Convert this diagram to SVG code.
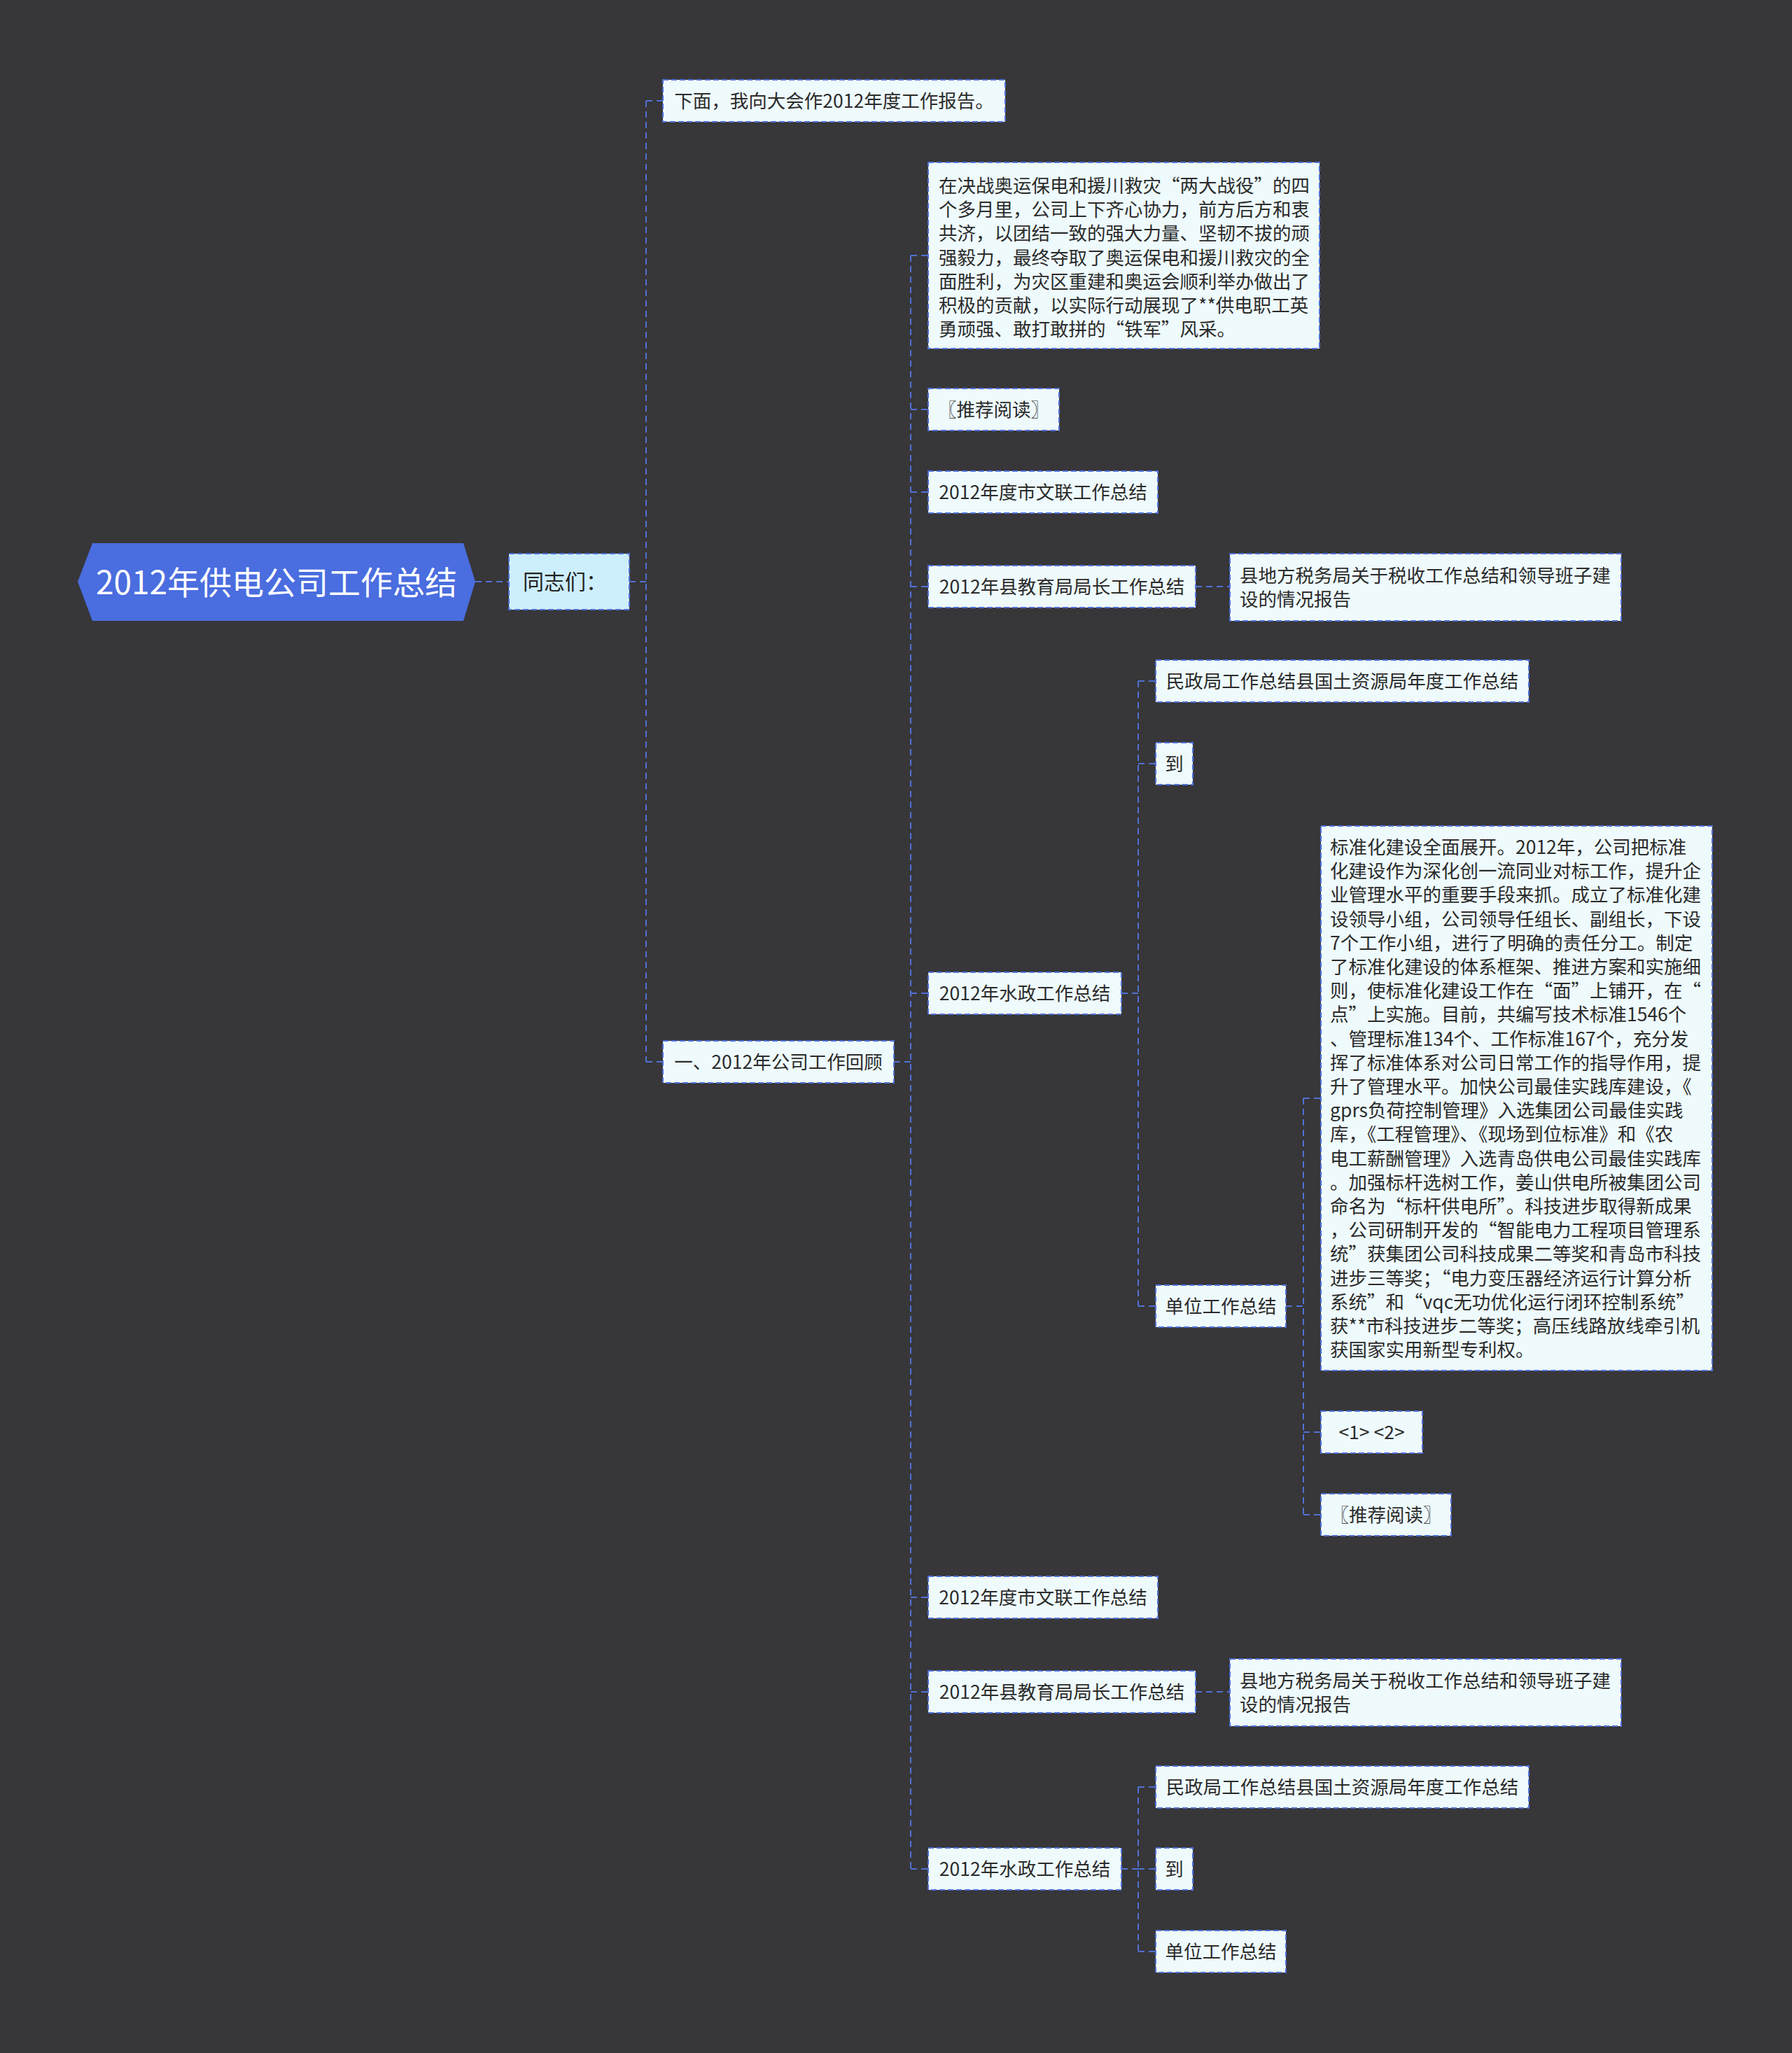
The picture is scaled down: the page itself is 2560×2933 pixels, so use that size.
<svg xmlns="http://www.w3.org/2000/svg" width="2560" height="2933" viewBox="0 0 2560 2933">
<style>
.bg{fill:#373639}
.box{fill:#eefafc;stroke:#5071d6;stroke-width:2;stroke-dasharray:8 4}
.sub{fill:#cdeefd;stroke:#5071d6;stroke-width:2;stroke-dasharray:8 4}
.t{font-family:"Noto Sans CJK SC","Microsoft YaHei",sans-serif;font-size:26.5px;fill:#2b2b2b}
.tc{text-anchor:middle;dominant-baseline:central}
.tl{dominant-baseline:central}
.root{font-family:"Noto Sans CJK SC","Microsoft YaHei",sans-serif;font-size:46px;fill:#ffffff;text-anchor:middle;dominant-baseline:central}
.c{fill:none;stroke:#5071d6;stroke-width:2;stroke-dasharray:9 6}
</style>
<rect class="bg" x="0" y="0" width="2560" height="2933"/>
<g id="connectors">
<path class="c" d="M679,831 H727" stroke-width="3"/>
<path class="c" d="M899,831 H923"/>
<path class="c" d="M923,144 V1517"/>
<path class="c" d="M923,144 H947"/>
<path class="c" d="M923,1517 H947"/>
<path class="c" d="M1277,1517 H1301"/>
<path class="c" d="M1301,365 V2670"/>
<path class="c" d="M1301,365 H1326"/>
<path class="c" d="M1301,585 H1326"/>
<path class="c" d="M1301,703 H1326"/>
<path class="c" d="M1301,838 H1326"/>
<path class="c" d="M1301,1419 H1326"/>
<path class="c" d="M1301,2282 H1326"/>
<path class="c" d="M1301,2417 H1326"/>
<path class="c" d="M1301,2670 H1326"/>
<path class="c" d="M1708,838 H1757"/>
<path class="c" d="M1708,2417 H1757"/>
<path class="c" d="M1602,1419 H1626"/>
<path class="c" d="M1626,973 V1866"/>
<path class="c" d="M1626,973 H1651"/>
<path class="c" d="M1626,1091 H1651"/>
<path class="c" d="M1626,1866 H1651"/>
<path class="c" d="M1837,1866 H1862"/>
<path class="c" d="M1862,1569 V2164"/>
<path class="c" d="M1862,1569 H1887"/>
<path class="c" d="M1862,2046 H1887"/>
<path class="c" d="M1862,2164 H1887"/>
<path class="c" d="M1602,2670 H1626"/>
<path class="c" d="M1626,2553 V2788"/>
<path class="c" d="M1626,2553 H1651"/>
<path class="c" d="M1626,2670 H1651"/>
<path class="c" d="M1626,2788 H1651"/>
</g>
<g id="root">
<polygon points="111,831 132,776 662,776 679,831 662,887 132,887" fill="#4a6ddf"/>
<text class="root" x="395" y="829">2012年供电公司工作总结</text>
</g>
<g id="n-tongzhi">
<rect class="sub" x="727" y="791" width="172" height="80"/>
<text class="t tl" x="747" y="829" style="font-size:30px;fill:#222">同志们：</text>
</g>
<g id="n1">
<rect class="box" x="947" y="114" width="489" height="60"/>
<text class="t tc" x="1191.5" y="142">下面，我向大会作2012年度工作报告。</text>
</g>
<g id="n2">
<rect class="box" x="947" y="1487" width="330" height="60"/>
<text class="t tc" x="1112" y="1515">一、2012年公司工作回顾</text>
</g>
<g id="n3">
<rect class="box" x="1326" y="232" width="559" height="266"/>
<text class="t tl">
<tspan x="1341" y="263">在决战奥运保电和援川救灾“两大战役”的四</tspan>
<tspan x="1341" y="297.2">个多月里，公司上下齐心协力，前方后方和衷</tspan>
<tspan x="1341" y="331.4">共济，以团结一致的强大力量、坚韧不拔的顽</tspan>
<tspan x="1341" y="365.6">强毅力，最终夺取了奥运保电和援川救灾的全</tspan>
<tspan x="1341" y="399.8">面胜利，为灾区重建和奥运会顺利举办做出了</tspan>
<tspan x="1341" y="434">积极的贡献，以实际行动展现了**供电职工英</tspan>
<tspan x="1341" y="468.2">勇顽强、敢打敢拼的“铁军”风采。</tspan>
</text>
</g>
<g id="n4">
<rect class="box" x="1326" y="555" width="187" height="60"/>
<text class="t tc" x="1419.5" y="583">〖推荐阅读〗</text>
</g>
<g id="n5">
<rect class="box" x="1326" y="673" width="328" height="60"/>
<text class="t tc" x="1490" y="701">2012年度市文联工作总结</text>
</g>
<g id="n6">
<rect class="box" x="1326" y="808" width="382" height="60"/>
<text class="t tc" x="1517" y="836">2012年县教育局局长工作总结</text>
</g>
<g id="n7">
<rect class="box" x="1757" y="791" width="559" height="96"/>
<text class="t tl">
<tspan x="1771" y="820">县地方税务局关于税收工作总结和领导班子建</tspan>
<tspan x="1771" y="854">设的情况报告</tspan>
</text>
</g>
<g id="n8">
<rect class="box" x="1326" y="1389" width="276" height="60"/>
<text class="t tc" x="1464" y="1417">2012年水政工作总结</text>
</g>
<g id="n9">
<rect class="box" x="1651" y="943" width="533" height="60"/>
<text class="t tc" x="1917.5" y="971">民政局工作总结县国土资源局年度工作总结</text>
</g>
<g id="n10">
<rect class="box" x="1651" y="1061" width="53" height="60"/>
<text class="t tc" x="1677.5" y="1089">到</text>
</g>
<g id="n11">
<rect class="box" x="1651" y="1836" width="186" height="60"/>
<text class="t tc" x="1744" y="1864">单位工作总结</text>
</g>
<g id="n12">
<rect class="box" x="1887" y="1180" width="559" height="778"/>
<text class="t tl">
<tspan x="1900" y="1208">标准化建设全面展开。2012年，公司把标准</tspan>
<tspan x="1900" y="1242.2">化建设作为深化创一流同业对标工作，提升企</tspan>
<tspan x="1900" y="1276.4">业管理水平的重要手段来抓。成立了标准化建</tspan>
<tspan x="1900" y="1310.6">设领导小组，公司领导任组长、副组长，下设</tspan>
<tspan x="1900" y="1344.8">7个工作小组，进行了明确的责任分工。制定</tspan>
<tspan x="1900" y="1379">了标准化建设的体系框架、推进方案和实施细</tspan>
<tspan x="1900" y="1413.2">则，使标准化建设工作在“面”上铺开，在“</tspan>
<tspan x="1900" y="1447.4">点”上实施。目前，共编写技术标准1546个</tspan>
<tspan x="1900" y="1481.6">、管理标准134个、工作标准167个，充分发</tspan>
<tspan x="1900" y="1515.8">挥了标准体系对公司日常工作的指导作用，提</tspan>
<tspan x="1900" y="1550">升了管理水平。加快公司最佳实践库建设，《</tspan>
<tspan x="1900" y="1584.2">gprs负荷控制管理》入选集团公司最佳实践</tspan>
<tspan x="1900" y="1618.4">库，《工程管理》、《现场到位标准》和《农</tspan>
<tspan x="1900" y="1652.6">电工薪酬管理》入选青岛供电公司最佳实践库</tspan>
<tspan x="1900" y="1686.8">。加强标杆选树工作，姜山供电所被集团公司</tspan>
<tspan x="1900" y="1721">命名为“标杆供电所”。科技进步取得新成果</tspan>
<tspan x="1900" y="1755.2">，公司研制开发的“智能电力工程项目管理系</tspan>
<tspan x="1900" y="1789.4">统”获集团公司科技成果二等奖和青岛市科技</tspan>
<tspan x="1900" y="1823.6">进步三等奖；“电力变压器经济运行计算分析</tspan>
<tspan x="1900" y="1857.8">系统”和“vqc无功优化运行闭环控制系统”</tspan>
<tspan x="1900" y="1892">获**市科技进步二等奖；高压线路放线牵引机</tspan>
<tspan x="1900" y="1926.2">获国家实用新型专利权。</tspan>
</text>
</g>
<g id="n13">
<rect class="box" x="1887" y="2016" width="145" height="60"/>
<text class="t tc" x="1959.5" y="2044">&lt;1&gt; &lt;2&gt;</text>
</g>
<g id="n14">
<rect class="box" x="1887" y="2134" width="186" height="60"/>
<text class="t tc" x="1980" y="2162">〖推荐阅读〗</text>
</g>
<g id="n15">
<rect class="box" x="1326" y="2252" width="328" height="60"/>
<text class="t tc" x="1490" y="2280">2012年度市文联工作总结</text>
</g>
<g id="n16">
<rect class="box" x="1326" y="2387" width="382" height="60"/>
<text class="t tc" x="1517" y="2415">2012年县教育局局长工作总结</text>
</g>
<g id="n17">
<rect class="box" x="1757" y="2370" width="559" height="96"/>
<text class="t tl">
<tspan x="1771" y="2399">县地方税务局关于税收工作总结和领导班子建</tspan>
<tspan x="1771" y="2433">设的情况报告</tspan>
</text>
</g>
<g id="n18">
<rect class="box" x="1326" y="2640" width="276" height="60"/>
<text class="t tc" x="1464" y="2668">2012年水政工作总结</text>
</g>
<g id="n19">
<rect class="box" x="1651" y="2523" width="533" height="60"/>
<text class="t tc" x="1917.5" y="2551">民政局工作总结县国土资源局年度工作总结</text>
</g>
<g id="n20">
<rect class="box" x="1651" y="2640" width="53" height="60"/>
<text class="t tc" x="1677.5" y="2668">到</text>
</g>
<g id="n21">
<rect class="box" x="1651" y="2758" width="186" height="60"/>
<text class="t tc" x="1744" y="2786">单位工作总结</text>
</g>
</svg>
